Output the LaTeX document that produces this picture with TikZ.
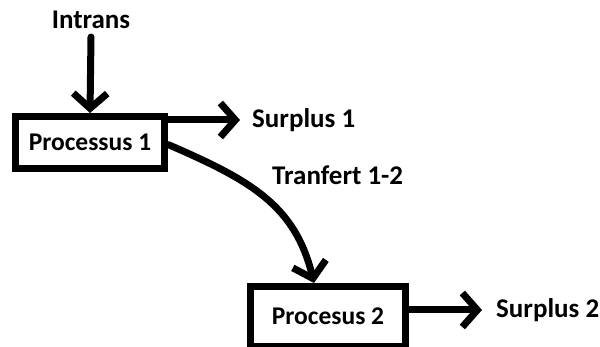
\documentclass[tikz,border=0pt]{standalone}
\usepackage{fontspec}
\setmainfont{Carlito}
\usetikzlibrary{arrows.meta}
\begin{document}
\begin{tikzpicture}[x=1pt,y=-1pt,
  lbl/.style={font=\bfseries\fontsize{27}{30}\selectfont, inner sep=0pt},
  pbox/.style={draw, line width=7pt, minimum width=149pt, minimum height=52pt, inner sep=0pt, font=\bfseries\fontsize{25.5}{28}\selectfont},
  flow/.style={line width=7pt, line cap=round, line join=round, -{Straight Barb[length=15pt,width=34pt,line width=7pt]}}]
\useasboundingbox (0,0) rectangle (600,347);
\node[pbox] (p1) at (90,142.5) {Processus 1};
\node[pbox, minimum width=155pt, minimum height=60pt] (p2) at (328,316.5) {Procesus 2};
\node[lbl] (in) at (91,20) {Intrans};
\node[lbl, anchor=west] (s1) at (252,120) {Surplus 1};
\node[lbl, anchor=west] (t12) at (272,175) {Tranfert 1-2};
\node[lbl, anchor=west] (s2) at (496,310) {Surplus 2};
\coordinate (a1) at (240,120);
\coordinate (a2) at (482,310);
\draw[flow] (in.south) ++(0,8) -- (p1.north);
\draw[flow] (p1.east |- a1) -- (a1);
\draw[flow] (p1.east) ++(0,2) .. controls (250,180) and (295,205) .. (p2.north -| 314,0);
\draw[flow] (p2.east |- a2) -- (a2);
\end{tikzpicture}
\end{document}
